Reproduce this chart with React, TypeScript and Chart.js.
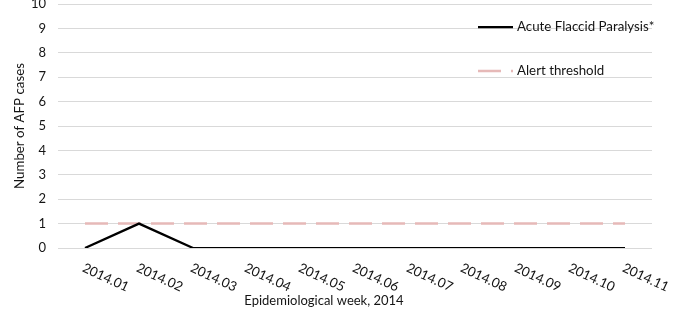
import React, { useEffect, useRef } from "react";
import { Chart, registerables } from "chart.js";

Chart.register(...registerables);

const categories = [
  "2014.01", "2014.02", "2014.03", "2014.04", "2014.05", "2014.06",
  "2014.07", "2014.08", "2014.09", "2014.10", "2014.11",
];
const afpCases = [0, 1, 0, 0, 0, 0, 0, 0, 0, 0, 0];
const alertThreshold = [1, 1, 1, 1, 1, 1, 1, 1, 1, 1, 1];
const seriesNames = ["Acute Flaccid Paralysis*", "Alert threshold"];
const yTitle = "Number of AFP cases";
const xTitle = "Epidemiological week, 2014";

const FONT = "Lato, 'Noto Sans', sans-serif";
const TEXT = "#141414";
const PINK = "#E6B9B8";

export default function App() {
  const ref = useRef<HTMLCanvasElement | null>(null);

  useEffect(() => {
    document.body.style.margin = "0";
    const canvas = ref.current;
    if (!canvas) return;

    const customText = {
      id: "customText",
      afterDraw(chart: any) {
        const ctx = chart.ctx as CanvasRenderingContext2D;
        const xs = chart.scales.x;
        ctx.save();
        // rotated x tick labels
        ctx.fillStyle = TEXT;
        ctx.font = `13.3px ${FONT}`;
        ctx.textAlign = "left";
        ctx.textBaseline = "top";
        categories.forEach((c, i) => {
          const px = xs.getPixelForValue(i);
          ctx.save();
          ctx.translate(px + 1, 261);
          ctx.rotate((25 * Math.PI) / 180);
          ctx.fillText(c, 0, 0);
          ctx.restore();
        });
        // x title
        ctx.font = `13px ${FONT}`;
        ctx.textAlign = "center";
        ctx.textBaseline = "middle";
        ctx.fillText(xTitle, 324, 301);

        // legend
        ctx.textAlign = "left";
        ctx.font = `13.3px ${FONT}`;
        ctx.lineCap = "butt";
        ctx.strokeStyle = "#000000";
        ctx.lineWidth = 2.25;
        ctx.beginPath();
        ctx.moveTo(478, 27);
        ctx.lineTo(513, 27);
        ctx.stroke();
        ctx.fillText(seriesNames[0], 517, 27);

        ctx.strokeStyle = PINK;
        ctx.lineWidth = 2.5;
        ctx.setLineDash([23, 10]);
        ctx.beginPath();
        ctx.moveTo(478, 71);
        ctx.lineTo(513, 71);
        ctx.stroke();
        ctx.setLineDash([]);
        ctx.fillText(seriesNames[1], 517, 71);
        ctx.restore();
      },
    };

    const chart = new Chart(canvas, {
      type: "line",
      data: {
        labels: categories,
        datasets: [
          {
            label: seriesNames[0],
            data: afpCases,
            borderColor: "#000000",
            borderWidth: 2.25,
            pointRadius: 0,
            tension: 0,
            fill: false,
          },
          {
            label: seriesNames[1],
            data: alertThreshold,
            borderColor: PINK,
            borderWidth: 2.5,
            borderDash: [23, 10],
            borderCapStyle: "butt",
            pointRadius: 0,
            tension: 0,
            fill: false,
          },
        ],
      },
      options: {
        animation: false,
        responsive: false,
        maintainAspectRatio: false,
        layout: { padding: { top: 4, right: 28, bottom: 0, left: 0 } },
        plugins: {
          legend: { display: false },
          tooltip: { enabled: false },
        },
        scales: {
          x: {
            type: "category",
            offset: true,
            grid: { display: false, drawTicks: false },
            border: { display: false },
            ticks: { display: false },
            afterFit(scale: any) {
              scale.height = 67;
              scale.paddingLeft = 0;
              scale.paddingRight = 0;
            },
          },
          y: {
            min: 0,
            max: 10,
            ticks: {
              stepSize: 1,
              padding: 12,
              color: TEXT,
              font: { family: FONT, size: 13 },
            },
            grid: { color: "#D9D9D9", lineWidth: 1, drawTicks: false },
            border: { display: false },
            title: {
              display: true,
              text: yTitle,
              color: TEXT,
              font: { family: FONT, size: 13.3 },
              padding: { top: 12, bottom: 0 },
            },
            afterFit(scale: any) {
              scale.width = 58;
              scale.paddingTop = 0;
              scale.paddingBottom = 0;
            },
          },
        },
      },
      plugins: [customText],
    });

    return () => chart.destroy();
  }, []);

  return (
    <div style={{ width: 680, height: 315 }}>
      <canvas ref={ref} width={680} height={315} style={{ display: "block" }} />
    </div>
  );
}
